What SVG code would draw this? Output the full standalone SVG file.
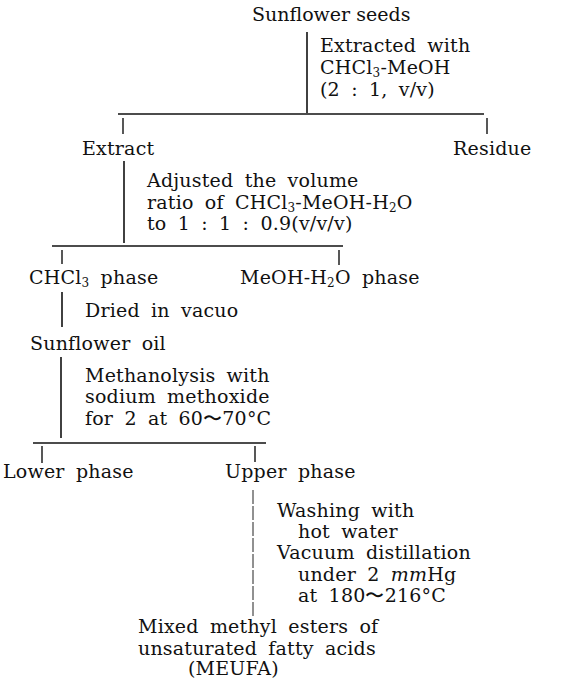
<svg xmlns="http://www.w3.org/2000/svg" width="562" height="682" viewBox="0 0 562 682">
<style>
text{font-family:"DejaVu Serif","Liberation Serif",serif;font-size:19px;fill:#111;word-spacing:5px;letter-spacing:0.2px}
.sub{font-size:12px}
.ln{stroke:#111;stroke-width:1.6;fill:none}
.tk{stroke:#111;stroke-width:1.4;fill:none}
.dl{stroke:#222;stroke-width:1;fill:none;stroke-dasharray:14 2}
</style>
<rect width="562" height="682" fill="#fff"/>
<g id="connectors">
<line class="ln" x1="307" y1="32" x2="307" y2="113"/>
<line class="ln" x1="118" y1="114" x2="484" y2="114"/>
<line class="tk" x1="123" y1="118" x2="123" y2="134"/>
<line class="tk" x1="487" y1="118" x2="487" y2="134"/>
<line class="ln" x1="124" y1="161" x2="124" y2="243"/>
<line class="ln" x1="52" y1="246" x2="343" y2="246"/>
<line class="tk" x1="62" y1="250" x2="62" y2="264"/>
<line class="tk" x1="339" y1="250" x2="339" y2="265"/>
<line class="ln" x1="62" y1="292" x2="62" y2="327"/>
<line class="ln" x1="61" y1="357" x2="61" y2="438"/>
<line class="ln" x1="33" y1="443" x2="266" y2="443"/>
<line class="tk" x1="42" y1="446" x2="42" y2="463"/>
<line class="tk" x1="255" y1="446" x2="255" y2="462"/>
<line class="dl" x1="253" y1="490" x2="253" y2="617"/>
</g>
<g id="seeds"><text x="252" y="21" style="word-spacing:0;letter-spacing:0">Sunflower seeds</text></g>
<g id="step1">
<text x="320" y="52">Extracted with</text>
<text x="320" y="74">CHCl<tspan class="sub" dy="3">3</tspan><tspan dy="-3">-MeOH</tspan></text>
<text x="320" y="96">(2 : 1,  v/v)</text>
</g>
<g id="extract"><text x="82" y="155">Extract</text></g>
<g id="residue"><text x="453" y="155">Residue</text></g>
<g id="step2">
<text x="147" y="187">Adjusted the volume</text>
<text x="147" y="209">ratio of CHCl<tspan class="sub" dy="3">3</tspan><tspan dy="-3">-MeOH-H</tspan><tspan class="sub" dy="3">2</tspan><tspan dy="-3">O</tspan></text>
<text x="147" y="230">to 1 : 1 : 0.9(v/v/v)</text>
</g>
<g id="chcl3"><text x="29" y="284">CHCl<tspan class="sub" dy="3">3</tspan><tspan dy="-3"> phase</tspan></text></g>
<g id="meoh"><text x="240" y="284">MeOH-H<tspan class="sub" dy="3">2</tspan><tspan dy="-3">O phase</tspan></text></g>
<g id="step3"><text x="85" y="317">Dried in vacuo</text></g>
<g id="oil"><text x="30" y="350">Sunflower oil</text></g>
<g id="step4">
<text x="85" y="382">Methanolysis with</text>
<text x="85" y="403">sodium methoxide</text>
<text x="85" y="425">for 2 at 60〜70°C</text>
</g>
<g id="lower"><text x="3" y="478">Lower phase</text></g>
<g id="upper"><text x="225" y="478">Upper phase</text></g>
<g id="step5">
<text x="277" y="517">Washing with</text>
<text x="298" y="538">hot water</text>
<text x="277" y="559">Vacuum distillation</text>
<text x="298" y="581">under 2 <tspan font-style="italic">mm</tspan>Hg</text>
<text x="298" y="602">at 180〜216°C</text>
</g>
<g id="meufa">
<text x="138" y="633">Mixed methyl esters of</text>
<text x="138" y="655">unsaturated fatty acids</text>
<text x="188" y="675">(MEUFA)</text>
</g>
</svg>
